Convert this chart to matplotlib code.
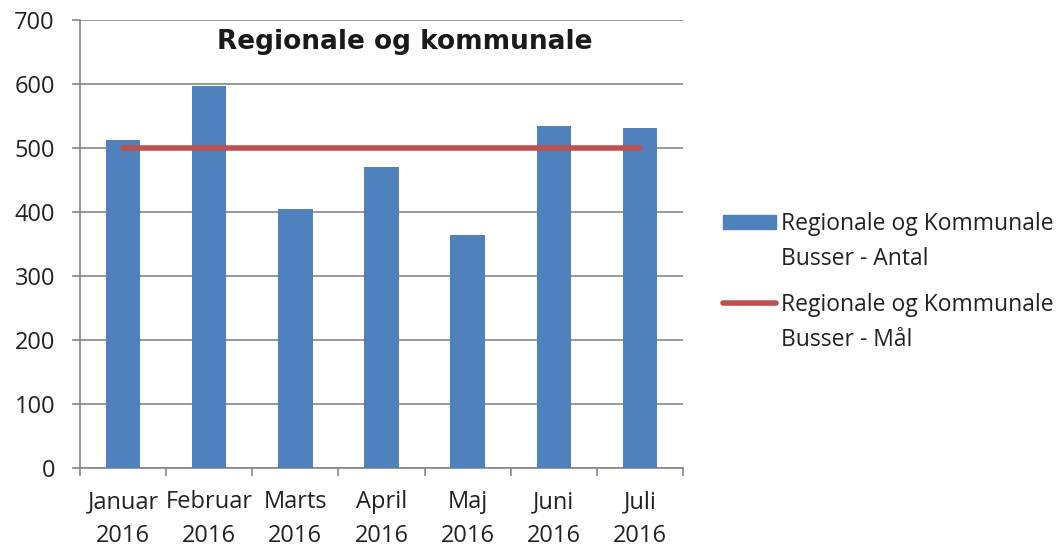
import numpy as np
import matplotlib.pyplot as plt
from matplotlib.patches import Rectangle
from matplotlib.lines import Line2D

months = ['Januar\n2016', 'Februar\n2016', 'Marts\n2016', 'April\n2016',
          'Maj\n2016', 'Juni\n2016', 'Juli\n2016']
antal = [512, 597, 404, 470, 364, 535, 532]
maal = [500, 500, 500, 500, 500, 500, 500]
labels = ['Regionale og Kommunale\nBusser - Antal',
          'Regionale og Kommunale\nBusser - Mål']

BLUE = '#4f81bd'
RED = '#c0504d'
GRID = '#868686'
TXT = '#222222'

plt.rcParams['font.family'] = ['Open Sans', 'DejaVu Sans']

fig = plt.figure(figsize=(10.61, 5.47), dpi=100)
ax = fig.add_axes([0.0754, 0.1444, 0.5683, 0.819])

x = np.arange(len(months))
ax.bar(x, antal, width=0.4, color=BLUE, zorder=3)
ax.plot(x, maal, color=RED, linewidth=4, solid_capstyle='round', zorder=4)

ax.set_xlim(-0.5, len(months) - 0.5)
ax.set_ylim(0, 700)
ax.set_yticks(range(0, 701, 100))
ax.grid(axis='y', color=GRID, linewidth=1.2, zorder=0)

ax.set_xticks(x)
ax.set_xticklabels(months, fontsize=17, color=TXT, linespacing=1.56)
ax.set_xticks(np.arange(-0.5, len(months), 1), minor=True)
ax.tick_params(axis='x', which='major', length=0, pad=16)
ax.tick_params(axis='x', which='minor', length=6, color=GRID, width=1.2)
ax.tick_params(axis='y', length=6, color=GRID, width=1.2, labelsize=17,
               labelcolor=TXT, pad=12)

for s in ['top', 'right']:
    ax.spines[s].set_visible(False)
for s in ['left', 'bottom']:
    ax.spines[s].set_color(GRID)
    ax.spines[s].set_linewidth(1.2)

ax.text(0.539, 0.951, 'Regionale og kommunale', transform=ax.transAxes,
        ha='center', va='center', fontsize=19, fontweight='bold',
        family='DejaVu Sans', color='#1a1a1a')

# legend drawn by hand: handle sits level with the first text line
fig.add_artist(Rectangle((0.681, 0.581), 0.050, 0.026, color=BLUE,
                         transform=fig.transFigure))
fig.add_artist(Line2D([0.681, 0.731], [0.446, 0.446], color=RED, linewidth=4,
                      solid_capstyle='round', transform=fig.transFigure))
fig.text(0.736, 0.558, labels[0], ha='left', va='center', fontsize=16.5,
         color=TXT, linespacing=1.62)
fig.text(0.736, 0.410, labels[1], ha='left', va='center', fontsize=16.5,
         color=TXT, linespacing=1.62)

plt.savefig('out.png', dpi=100)
